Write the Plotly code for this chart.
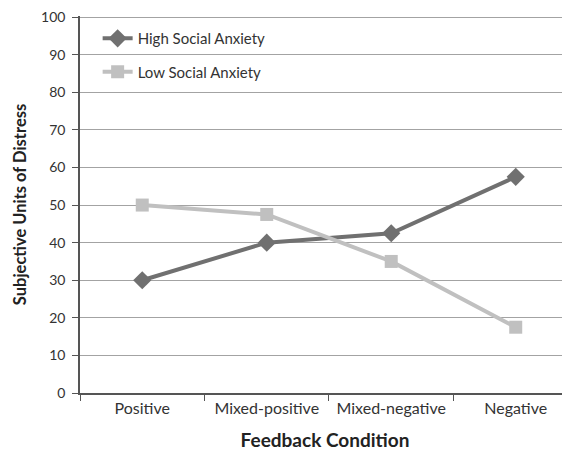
import plotly.graph_objects as go

categories = ["Positive", "Mixed-positive", "Mixed-negative", "Negative"]
high_anxiety = [30, 40, 42.5, 57.5]
low_anxiety = [50, 47.5, 35, 17.5]
y_ticks = [0, 10, 20, 30, 40, 50, 60, 70, 80, 90, 100]

FONT = "Lato, 'Open Sans', sans-serif"

fig = go.Figure()
fig.add_trace(go.Scatter(
    x=categories, y=high_anxiety, mode="lines+markers", name="High Social Anxiety",
    line=dict(color="#707070", width=4),
    marker=dict(symbol="diamond", size=14, color="#707070"),
    legendgroup="a",
))
fig.add_trace(go.Scatter(
    x=categories, y=low_anxiety, mode="lines+markers", name="Low Social Anxiety",
    line=dict(color="#c0c0c0", width=4),
    marker=dict(symbol="square", size=13, color="#c0c0c0"),
    legendgroup="b",
))

# The page has an 8px body margin, so the figure is sized to fit the 570x455 window.
fig.update_layout(
    width=562, height=447,
    margin=dict(l=72, r=0, t=8, b=62),
    paper_bgcolor="white", plot_bgcolor="white",
    font=dict(family=FONT, size=14, color="#333333"),
    showlegend=True,
    legend=dict(x=0.036, y=0.984, xanchor="left", yanchor="top",
                bgcolor="rgba(0,0,0,0)", font=dict(size=15, color="#333333"),
                tracegroupgap=11, traceorder="grouped"),
    xaxis=dict(
        type="category", categoryorder="array", categoryarray=categories,
        range=[-0.5, 3.436], tickson="boundaries", ticks="outside", ticklen=6,
        tickcolor="#555555", showline=True, linecolor="#555555", linewidth=1.5,
        showgrid=False, tickfont=dict(size=16, color="#333333"), automargin=False,
        title=dict(text="<b>Feedback Condition</b>", font=dict(size=19, color="#222222"), standoff=18),
    ),
    yaxis=dict(
        range=[0, 100.3], tickvals=y_ticks, ticks="outside", ticklen=6,
        tickcolor="#555555", showline=True, linecolor="#555555", linewidth=1.5,
        showgrid=True, gridcolor="#a3a3a3", gridwidth=1.2, zeroline=False,
        ticklabelstandoff=4,
        tickfont=dict(size=14, color="#333333"), automargin=False,
        title=dict(text="<b>Subjective Units of Distress</b>", font=dict(size=16.5, color="#222222"), standoff=10),
    ),
)

fig.write_html("out.html")
